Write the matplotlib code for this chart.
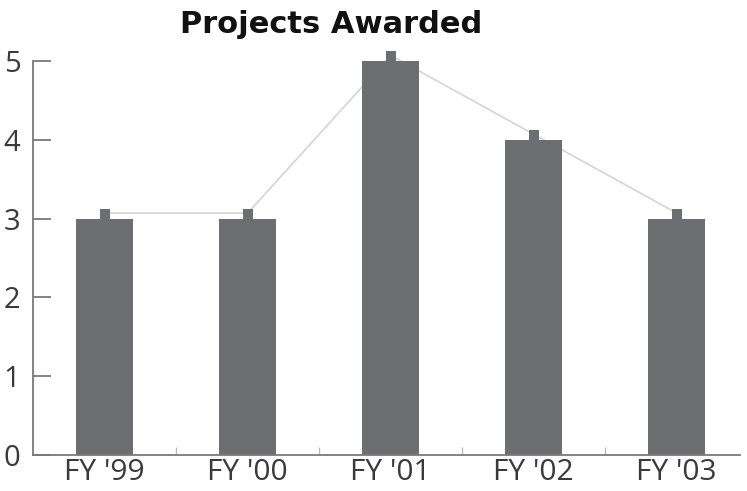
import numpy as np
import matplotlib.pyplot as plt
from matplotlib.ticker import FixedLocator

years = ["FY '99", "FY '00", "FY '01", "FY '02", "FY '03"]
projects = [3, 3, 5, 4, 3]

bar_color = '#6d6e71'
line_color = '#d4d4d4'
axis_color = '#7a7a7a'

plt.rcParams['font.family'] = ['Open Sans', 'DejaVu Sans']

fig = plt.figure(figsize=(7.47, 4.91), dpi=100)
ax = fig.add_axes([0.044, 0.073, 0.946, 0.803])

x = np.arange(len(years))
vals = np.array(projects, dtype=float)

# ligne de tendance entre les sommets
ax.plot(x, vals + 0.07, color=line_color, lw=1.2, zorder=1, clip_on=False)
ax.bar(x, vals, width=0.4, color=bar_color, zorder=2)
# petits repères au-dessus des barres
ax.bar(x, 0.12, bottom=vals, width=0.07, color=bar_color, zorder=2, clip_on=False)

ax.set_xlim(-0.503, 4.44)
ax.set_ylim(0, 5)
ax.set_xticks(x)
ax.set_xticklabels(years)
ax.set_yticks(range(6))
ax.xaxis.set_minor_locator(FixedLocator(x[:-1] + 0.5))

for s in ['top', 'right']:
    ax.spines[s].set_visible(False)
for s in ['left', 'bottom']:
    ax.spines[s].set_color(axis_color)
    ax.spines[s].set_linewidth(1.3)

ax.tick_params(axis='y', direction='in', length=13, width=1.3, color=axis_color,
               labelsize=21, labelcolor='#3a3a3a', pad=9)
ax.tick_params(axis='x', which='major', length=0, labelsize=21.5, labelcolor='#3a3a3a', pad=2)
ax.tick_params(axis='x', which='minor', direction='in', length=6, width=1, color='#bbbbbb')

fig.text(0.443, 0.95, 'Projects Awarded', ha='center', va='center',
         fontsize=22, fontweight='bold', color='#111111', family='DejaVu Sans')

fig.savefig('out.png', dpi=100)
